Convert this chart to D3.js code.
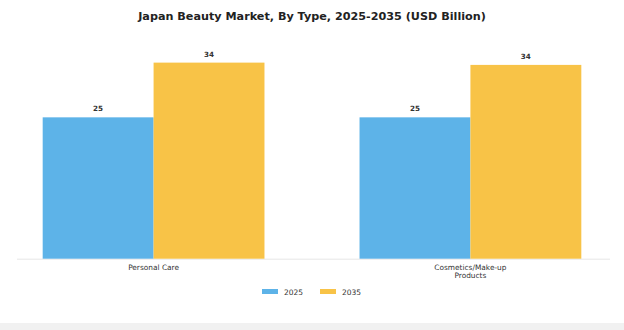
<!DOCTYPE html>
<html>
<head>
<meta charset="utf-8">
<script src="https://cdn.jsdelivr.net/npm/d3@7"></script>
<style>
  html, body { margin: 0; padding: 0; background: #fff; }
  svg { display: block; font-family: "DejaVu Sans", sans-serif; }
</style>
</head>
<body>
<svg id="chart" width="624" height="330"></svg>
<script>
// Market size by product type (USD billion)
const categories = ["Personal Care", "Cosmetics/Make-up Products"];
const years = ["2025", "2035"];
const values2025 = [24.8, 24.8];
const values2035 = [34.4, 34.0];
const seriesColors = ["#5db3e8", "#f8c347"];

const W = 624, H = 330;
const svg = d3.select("#chart");

// page footer strip
svg.append("rect").attr("x", 0).attr("y", 323).attr("width", W).attr("height", H - 323)
  .attr("fill", "#f1f1f1");

svg.append("text")
  .attr("x", W / 2).attr("y", 20)
  .attr("text-anchor", "middle")
  .attr("font-size", 11.2).attr("font-weight", "bold").attr("fill", "#222")
  .text("Japan Beauty Market, By Type, 2025-2035 (USD Billion)");

const baseline = 258.7;
const x0 = d3.scaleBand().domain(categories).range([11, 613])
  .paddingInner(0.3).paddingOuter(0.1);
const x1 = d3.scaleBand().domain(years).range([0, x0.bandwidth()]);
const y = d3.scaleLinear().domain([0, 40]).range([baseline, baseline - 228]);

const rows = categories.map((c, i) => ({
  category: c,
  items: [
    { year: years[0], value: values2025[i] },
    { year: years[1], value: values2035[i] }
  ]
}));

// baseline
svg.append("line")
  .attr("x1", 17).attr("x2", 610).attr("y1", baseline + 0.5).attr("y2", baseline + 0.5)
  .attr("stroke", "#e6e6e6").attr("stroke-width", 1);

const groups = svg.selectAll("g.group").data(rows).join("g")
  .attr("class", "group")
  .attr("transform", d => `translate(${x0(d.category)},0)`);

groups.selectAll("rect").data(d => d.items).join("rect")
  .attr("x", d => x1(d.year))
  .attr("y", d => y(d.value))
  .attr("width", x1.bandwidth())
  .attr("height", d => y(0) - y(d.value))
  .attr("fill", (d, i) => seriesColors[i]);

groups.selectAll("text.val").data(d => d.items).join("text")
  .attr("class", "val")
  .attr("x", d => x1(d.year) + x1.bandwidth() / 2)
  .attr("y", d => y(d.value) - 6)
  .attr("text-anchor", "middle")
  .attr("font-size", 7.2).attr("font-weight", "bold").attr("fill", "#333")
  .text(d => d3.format(".0f")(d.value));

// category labels, wrapped onto two lines where long
const catLines = { "Personal Care": ["Personal Care"], "Cosmetics/Make-up Products": ["Cosmetics/Make-up", "Products"] };
svg.selectAll("text.cat").data(categories).join("text")
  .attr("class", "cat")
  .attr("x", d => x0(d) + x0.bandwidth() / 2)
  .attr("y", 269.5)
  .attr("text-anchor", "middle")
  .attr("font-size", 7.4).attr("fill", "#333")
  .each(function (d) {
    const t = d3.select(this);
    catLines[d].forEach((line, k) => {
      t.append("tspan").attr("x", x0(d) + x0.bandwidth() / 2).attr("dy", k === 0 ? 0 : 8.6).text(line);
    });
  });

// legend
const legend = svg.append("g");
const legendX = [262, 320];
years.forEach((yr, i) => {
  legend.append("rect").attr("x", legendX[i]).attr("y", 289).attr("width", 16).attr("height", 5)
    .attr("fill", seriesColors[i]);
  legend.append("text").attr("x", legendX[i] + 22).attr("y", 294.5)
    .attr("font-size", 7.5).attr("fill", "#333").text(yr);
});
</script>
</body>
</html>
